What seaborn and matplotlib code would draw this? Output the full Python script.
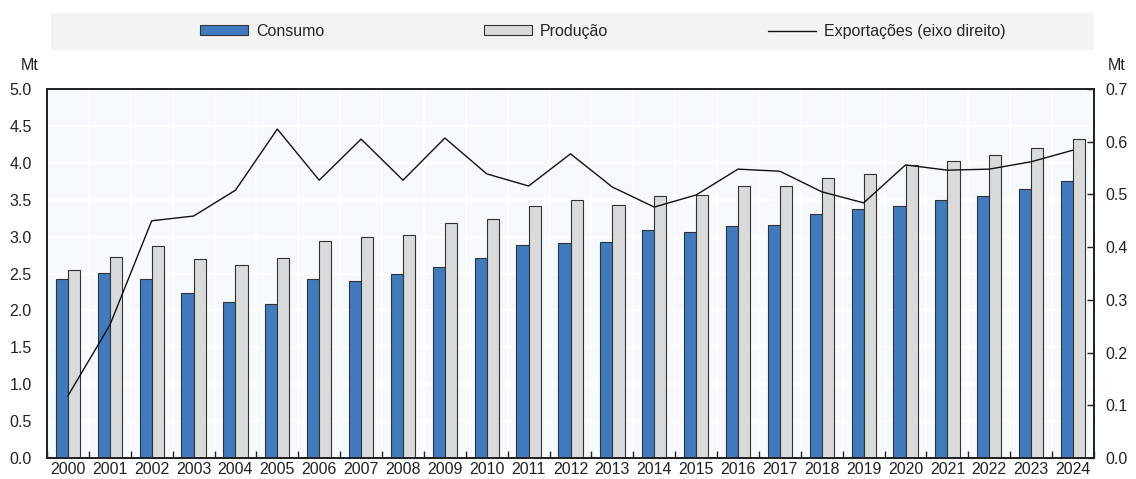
import numpy as np
import pandas as pd
import matplotlib.pyplot as plt
import seaborn as sns
from matplotlib.patches import Patch, Rectangle
from matplotlib.lines import Line2D

# Data (Mt)
years = [str(y) for y in range(2000, 2025)]
consumo = [2.42, 2.51, 2.43, 2.24, 2.12, 2.09, 2.43, 2.40, 2.50, 2.59,
           2.71, 2.88, 2.92, 2.93, 3.09, 3.06, 3.14, 3.16, 3.31, 3.37,
           3.41, 3.49, 3.55, 3.65, 3.75]
producao = [2.55, 2.73, 2.87, 2.70, 2.62, 2.71, 2.94, 3.00, 3.02, 3.19,
            3.24, 3.41, 3.49, 3.43, 3.55, 3.56, 3.68, 3.69, 3.80, 3.85,
            3.97, 4.02, 4.10, 4.20, 4.32]
exportacoes = [0.118, 0.252, 0.450, 0.459, 0.508, 0.624, 0.527, 0.605, 0.527, 0.607,
               0.539, 0.516, 0.577, 0.514, 0.476, 0.499, 0.548, 0.544, 0.505, 0.484,
               0.556, 0.546, 0.548, 0.562, 0.584]

df = pd.DataFrame({
    "Ano": years * 2,
    "Valor": consumo + producao,
    "Serie": ["Consumo"] * len(years) + ["Produção"] * len(years),
})

sns.set_theme(style="white")
plt.rcParams['font.family'] = ['Liberation Sans', 'DejaVu Sans']

blue = "#417bbf"
grey = "#dadada"
edge = "#333333"
txt = "#222222"
fs = 11.5

fig = plt.figure(figsize=(11.36, 4.79), dpi=100)
ax = fig.add_axes([47 / 1136, 21 / 479, 1047 / 1136, 369 / 479])
ax.set_facecolor("#f6f9fd")

sns.barplot(data=df, x="Ano", y="Valor", hue="Serie",
            palette={"Consumo": blue, "Produção": grey}, saturation=1,
            width=0.58, gap=0, edgecolor=edge, linewidth=0.8,
            legend=False, ax=ax)

ax.set_xlim(-0.5, len(years) - 0.5)
ax.set_ylim(0, 5)
ax.set_yticks(np.arange(0, 5.01, 0.5))
ax.set_yticklabels([f"{v:.1f}" for v in np.arange(0, 5.01, 0.5)])
ax.set_xticks(np.arange(-0.5, len(years), 1), minor=True)
ax.set_axisbelow(True)
ax.grid(which="minor", axis="x", color="white", lw=1.2)
ax.grid(which="major", axis="y", color="white", lw=1.2)
ax.set_xlabel("")
ax.set_ylabel("")
ax.tick_params(axis="x", which="major", length=0, pad=3, labelsize=fs, colors=txt)
ax.tick_params(axis="x", which="minor", length=5, direction="in", width=1, color=txt, bottom=True)
ax.tick_params(axis="y", length=0, pad=11, labelsize=fs, colors=txt)
for s in ax.spines.values():
    s.set_color(txt)
    s.set_linewidth(1.3)

# Exports on right axis
ax2 = ax.twinx()
sns.lineplot(x=np.arange(len(years)), y=exportacoes, color="#111111", lw=1, ax=ax2)
ax2.set_ylim(0, 0.7)
ax2.set_yticks(np.arange(0, 0.71, 0.1))
ax2.set_yticklabels([f"{v:.1f}" for v in np.arange(0, 0.71, 0.1)])
ax2.tick_params(axis="y", direction="in", length=5, width=1, pad=8, labelsize=fs, colors=txt)
ax2.grid(False)
for s in ax2.spines.values():
    s.set_color(txt)
    s.set_linewidth(1.3)

fig.text(30 / 1136, 1 - 65 / 479, "Mt", ha="center", va="center", fontsize=fs, color=txt)
fig.text(1117 / 1136, 1 - 65 / 479, "Mt", ha="center", va="center", fontsize=fs, color=txt)

# Legend band
fig.add_artist(Rectangle((51 / 1136, 1 - 50 / 479), 1043 / 1136, 37 / 479,
                         transform=fig.transFigure, facecolor="#f2f3f2", edgecolor="none", zorder=0))
handles = [Patch(facecolor=blue, edgecolor=edge, lw=0.8),
           Patch(facecolor=grey, edgecolor=edge, lw=0.8),
           Line2D([], [], color="#111111", lw=1)]
labels = ["Consumo", "Produção", "Exportações (eixo direito)"]
fig.legend(handles, labels, loc="center", bbox_to_anchor=(603 / 1136, 1 - 31.5 / 479),
           ncol=3, frameon=False, fontsize=fs, handlelength=3.0, handleheight=0.6,
           handletextpad=0.5, columnspacing=10)

fig.savefig("out.png", dpi=100)
